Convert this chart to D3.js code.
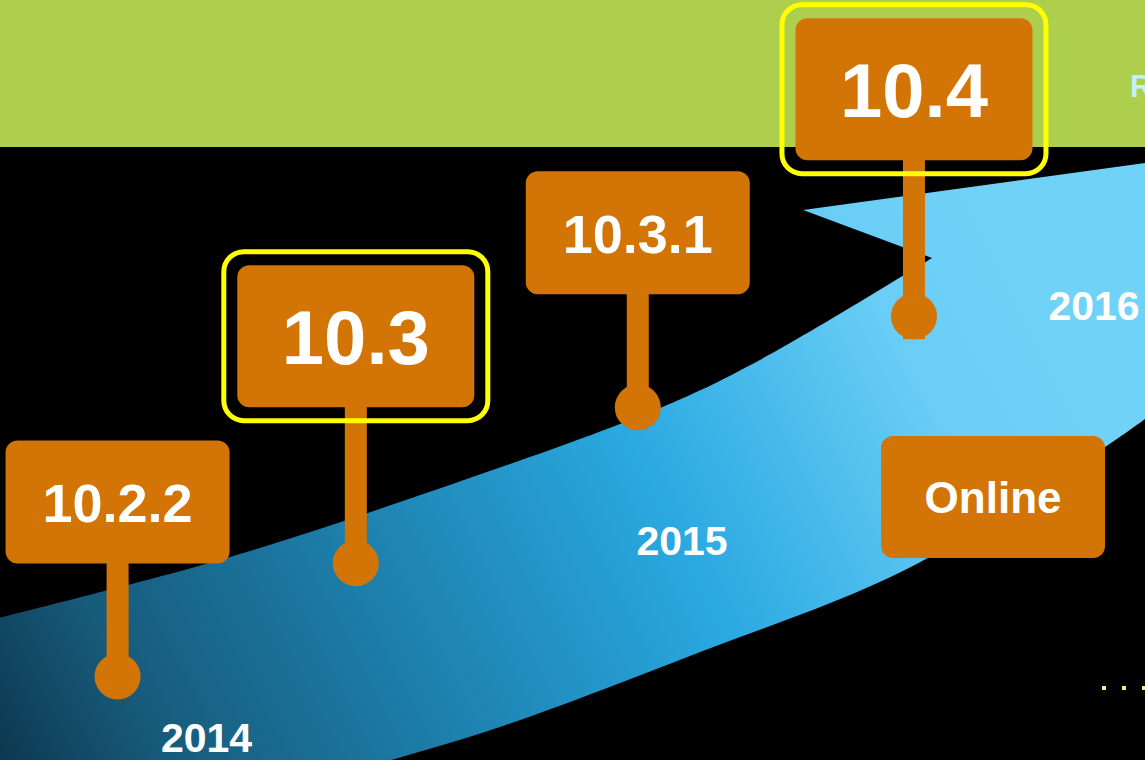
<!DOCTYPE html>
<html><head><meta charset="utf-8">
<script src="https://cdn.jsdelivr.net/npm/d3@7"></script>
<style>html,body{margin:0;padding:0;background:#000;overflow:hidden}svg{display:block}</style>
</head><body><svg id="c" width="1145" height="760"></svg>
<script>
// ---- data ----
const releases = ["10.2.2", "10.3", "10.3.1", "10.4"];
const releaseTime = [2013.813, 2014.314, 2014.907, 2015.563];
const releaseLevel = [11.0, 25.9, 46.4, 58.4];
const releaseMajor = [false, true, false, true];
const years = ["2014", "2015", "2016"];
const yearTime = [2014, 2015, 2016];
const yearLevel = [1.05, 26.97, 57.9];
const extraLabel = ["Online"];
const extraTime = [2015.755];
const extraLevel = [34.6];
const ribbonTop = [[2013.545, 18.42], [2014.028, 26.32], [2014.407, 33.95], [2014.954, 46.32], [2015.189, 52.63], [2015.607, 66.05]];
const ribbonNotch = [[2015.294, 72.37], [2016.160, 78.82]];
const ribbonBottom = [[2016.160, 46.32], [2016.027, 41.18], [2015.541, 25.0], [2015.044, 14.21], [2014.617, 4.34], [2014.344, -0.79], [2013.545, -0.79]];
const headerTail = ["R"];
const dots = [0, 1, 2];

// ---- scales ----
const W = 1145, H = 760;
const x = d3.scaleLinear().domain([2014, 2015, 2016]).range([206.5, 682, 1094]);
const y = d3.scaleLinear().domain([0, 100]).range([H, 0]);

const svg = d3.select("#c");
const FONT = "'Liberation Sans', Arial, Helvetica, sans-serif";
const ORANGE = "#D27506";

const defs = svg.append("defs");
const grad = defs.append("linearGradient").attr("id", "rib")
  .attr("gradientUnits", "userSpaceOnUse")
  .attr("x1", 0).attr("y1", 760).attr("x2", 1000).attr("y2", 250);
[[0, "#0c3850"], [0.13, "#175a7a"], [0.37, "#1d80ad"], [0.63, "#2aa9e1"], [0.88, "#69cdf5"], [1, "#70d2f7"]]
  .forEach(([o, c]) => grad.append("stop").attr("offset", o).attr("stop-color", c));

// background
svg.append("rect").attr("width", W).attr("height", H).attr("fill", "#000");
svg.append("rect").attr("width", W).attr("height", 147).attr("fill", "#ADCF4D");

// ribbon
const curve = d3.line().x(d => x(d[0])).y(d => y(d[1])).curve(d3.curveCatmullRom.alpha(0.5));
const straight = d3.line().x(d => x(d[0])).y(d => y(d[1]));
const p = curve(ribbonTop) + straight(ribbonNotch).replace(/^M/, "L") +
  curve(ribbonBottom.slice(0, 6)).replace(/^M/, "L") + straight(ribbonBottom.slice(5)).replace(/^M/, "L") + "Z";
svg.append("path").attr("d", p).attr("fill", "url(#rib)");

// pins
const minor = { w: 224, h: 123, stem: 113, fs: 54 };
const major = { w: 237, h: 142, stem: 156, fs: 76 };
releases.forEach((lab, i) => {
  const s = releaseMajor[i] ? major : minor;
  const cx = x(releaseTime[i]), cy = y(releaseLevel[i]);
  const bBottom = cy - s.stem, bTop = bBottom - s.h;
  const g = svg.append("g");
  const tail = i === releases.length - 1 ? 23 : 0;
  g.append("rect").attr("x", cx - 11).attr("y", bBottom - 2).attr("width", 22).attr("height", s.stem + 2 + tail).attr("fill", ORANGE);
  g.append("circle").attr("cx", cx).attr("cy", cy).attr("r", 23).attr("fill", ORANGE);
  g.append("rect").attr("x", cx - s.w / 2).attr("y", bTop).attr("width", s.w).attr("height", s.h).attr("rx", 12).attr("fill", ORANGE);
  if (releaseMajor[i]) {
    g.append("rect").attr("x", cx - s.w / 2 - 13.5).attr("y", bTop - 13.5).attr("width", s.w + 27).attr("height", s.h + 27)
      .attr("rx", 20).attr("fill", "none").attr("stroke", "#FFFF00").attr("stroke-width", 5);
  }
  g.append("text").attr("x", cx).attr("y", bTop + s.h / 2 + 0.37 * s.fs).attr("text-anchor", "middle")
    .attr("font-family", FONT).attr("font-weight", "bold").attr("font-size", s.fs).attr("fill", "#fff").text(lab);
});

// online box
extraLabel.forEach((lab, i) => {
  const cx = x(extraTime[i]), cy = y(extraLevel[i]);
  svg.append("rect").attr("x", cx - 112).attr("y", cy - 61).attr("width", 224).attr("height", 122).attr("rx", 12).attr("fill", ORANGE);
  svg.append("text").attr("x", cx).attr("y", cy + 16).attr("text-anchor", "middle")
    .attr("font-family", FONT).attr("font-weight", "bold").attr("font-size", 44).attr("fill", "#fff").text(lab);
});

// years
years.forEach((yr, i) => {
  svg.append("text").attr("x", x(yearTime[i])).attr("y", y(yearLevel[i])).attr("text-anchor", "middle")
    .attr("font-family", FONT).attr("font-weight", "bold").attr("font-size", 41).attr("fill", "#fff").text(yr);
});

// header tail text
svg.append("text").attr("x", 1130).attr("y", 97).attr("font-family", FONT).attr("font-weight", "bold")
  .attr("font-size", 31).attr("fill", "#c6effa").text(headerTail[0]);

// dots
svg.selectAll("rect.dot").data(dots).enter().append("rect").attr("class", "dot")
  .attr("x", d => 1102 + d * 20).attr("y", 686).attr("width", 4).attr("height", 4).attr("fill", "#F2EE8A");
</script></body></html>
